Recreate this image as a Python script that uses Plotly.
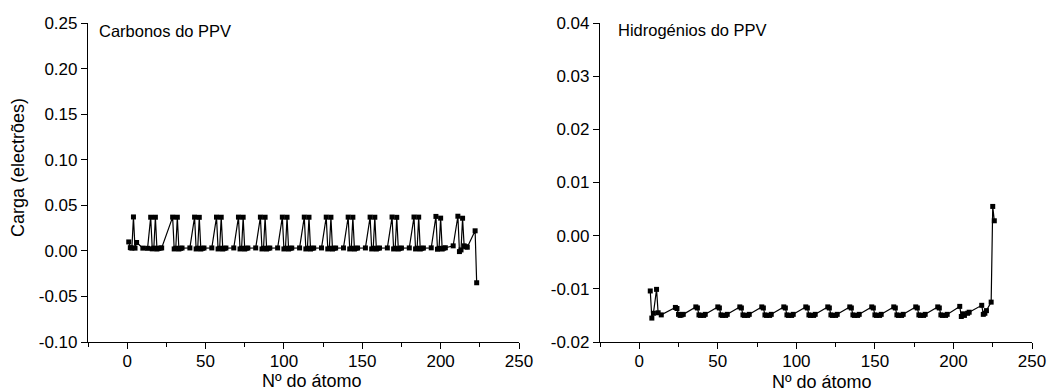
import plotly.graph_objects as go

# Mulliken-type charges (electrons) along a PPV oligomer, by atom number
# --- carbon atoms ---
C_ATOM = [
    1, 2, 3, 4, 5, 6, 10, 13,
    15, 16, 17, 18, 19, 20, 21, 22,
    29, 30, 31, 32, 33, 34, 35,
    40, 43, 44, 45, 46, 47, 48, 49,
    54, 57, 58, 59, 60, 61, 62, 63,
    68, 71, 72, 73, 74, 75, 76, 77,
    82, 85, 86, 87, 88, 89, 90, 91,
    96, 99, 100, 101, 102, 103, 104, 105,
    110, 113, 114, 115, 116, 117, 118, 119,
    124, 127, 128, 129, 130, 131, 132, 133,
    138, 141, 142, 143, 144, 145, 146, 147,
    152, 155, 156, 157, 158, 159, 160, 161,
    166, 169, 170, 171, 172, 173, 174, 175,
    180, 183, 184, 185, 186, 187, 188, 189,
    194, 197, 198, 199, 200, 201, 202, 203,
    208, 211, 212, 213, 214, 215, 216, 217,
    222, 223,
]
C_CHARGE = [
    0.0098, 0.0035, 0.0030, 0.0372, 0.0030, 0.0092, 0.0030, 0.0028,
    0.0369, 0.0022, 0.0030, 0.0369, 0.0020, 0.0028, 0.0030, 0.0032,
    0.0370, 0.0021, 0.0029, 0.0369, 0.0020, 0.0028, 0.0031,
    0.0032, 0.0370, 0.0021, 0.0029, 0.0368, 0.0020, 0.0028, 0.0031,
    0.0032, 0.0370, 0.0021, 0.0029, 0.0369, 0.0020, 0.0028, 0.0031,
    0.0032, 0.0370, 0.0021, 0.0029, 0.0369, 0.0020, 0.0028, 0.0031,
    0.0032, 0.0370, 0.0021, 0.0029, 0.0369, 0.0020, 0.0028, 0.0031,
    0.0032, 0.0370, 0.0021, 0.0029, 0.0369, 0.0020, 0.0028, 0.0031,
    0.0032, 0.0370, 0.0021, 0.0029, 0.0369, 0.0020, 0.0028, 0.0031,
    0.0032, 0.0370, 0.0021, 0.0029, 0.0369, 0.0020, 0.0028, 0.0031,
    0.0032, 0.0370, 0.0021, 0.0029, 0.0369, 0.0020, 0.0028, 0.0031,
    0.0032, 0.0370, 0.0021, 0.0029, 0.0369, 0.0020, 0.0028, 0.0031,
    0.0032, 0.0371, 0.0021, 0.0029, 0.0368, 0.0020, 0.0028, 0.0031,
    0.0032, 0.0371, 0.0021, 0.0029, 0.0370, 0.0020, 0.0028, 0.0031,
    0.0033, 0.0378, 0.0018, 0.0028, 0.0359, 0.0020, 0.0029, 0.0034,
    0.0055, 0.0380, -0.0008, 0.0010, 0.0358, 0.0055, 0.0045, 0.0040,
    0.0220, -0.0350,
]

# --- hydrogen atoms ---
H_ATOM = [
    7, 8, 9, 11, 12, 14,
    23, 24, 25, 26, 27, 28,
    36, 37, 38, 39, 41, 42,
    50, 51, 52, 53, 55, 56,
    64, 65, 66, 67, 69, 70,
    78, 79, 80, 81, 83, 84,
    92, 93, 94, 95, 97, 98,
    106, 107, 108, 109, 111, 112,
    120, 121, 122, 123, 125, 126,
    134, 135, 136, 137, 139, 140,
    148, 149, 150, 151, 153, 154,
    162, 163, 164, 165, 167, 168,
    176, 177, 178, 179, 181, 182,
    190, 191, 192, 193, 195, 196,
    204, 205, 206, 207, 209, 210,
    218, 219, 220, 221, 224, 225, 226,
]
H_CHARGE = [
    -0.0104, -0.0155, -0.0146, -0.0101, -0.0145, -0.0149,
    -0.0135, -0.0137, -0.0148, -0.0150, -0.0149, -0.0148,
    -0.0134, -0.0136, -0.0149, -0.0150, -0.0150, -0.0148,
    -0.0134, -0.0136, -0.0149, -0.0150, -0.0150, -0.0148,
    -0.0134, -0.0136, -0.0149, -0.0150, -0.0150, -0.0148,
    -0.0134, -0.0136, -0.0149, -0.0150, -0.0150, -0.0148,
    -0.0134, -0.0136, -0.0149, -0.0150, -0.0150, -0.0148,
    -0.0134, -0.0136, -0.0149, -0.0150, -0.0150, -0.0148,
    -0.0134, -0.0136, -0.0149, -0.0150, -0.0150, -0.0148,
    -0.0134, -0.0136, -0.0149, -0.0150, -0.0150, -0.0148,
    -0.0134, -0.0136, -0.0149, -0.0150, -0.0150, -0.0148,
    -0.0134, -0.0136, -0.0149, -0.0150, -0.0150, -0.0148,
    -0.0134, -0.0136, -0.0149, -0.0150, -0.0150, -0.0148,
    -0.0134, -0.0136, -0.0149, -0.0150, -0.0150, -0.0148,
    -0.0133, -0.0152, -0.0147, -0.0150, -0.0146, -0.0144,
    -0.0131, -0.0148, -0.0146, -0.0141, -0.0125, 0.0055, 0.0028,
]

# axis ticks and labels
X_TICKS = [0, 50, 100, 150, 200, 250]
C_TICKS = [-0.10, -0.05, 0.00, 0.05, 0.10, 0.15, 0.20, 0.25]
C_TICKTEXT = ["-0.10", "-0.05", "0.00", "0.05", "0.10", "0.15", "0.20", "0.25"]
H_TICKS = [-0.02, -0.01, 0.00, 0.01, 0.02, 0.03, 0.04]
H_TICKTEXT = ["-0.02", "-0.01", "0.00", "0.01", "0.02", "0.03", "0.04"]

W, H = 1048, 392
FONT = "Liberation Sans"
TICK_SIZE = 17
TITLE_SIZE = 18

line_style = dict(color="black", width=1.2)
marker_style = dict(symbol="square", size=5, color="black")

fig = go.Figure()
fig.add_trace(go.Scatter(x=C_ATOM, y=C_CHARGE, mode="lines+markers",
                         line=line_style, marker=marker_style,
                         xaxis="x", yaxis="y", showlegend=False))
fig.add_trace(go.Scatter(x=H_ATOM, y=H_CHARGE, mode="lines+markers",
                         line=line_style, marker=marker_style,
                         xaxis="x2", yaxis="y2", showlegend=False))


def px_x(p):
    return p / W


def px_y(p):
    return 1 - p / H


y_dom = [px_y(342), px_y(23)]

common_x = dict(range=[-25, 250], tickvals=X_TICKS, ticks="outside", ticklen=6,
                tickwidth=1.2, tickcolor="black", showline=True, linecolor="black",
                linewidth=1.2, showgrid=False, zeroline=False, mirror=False,
                automargin=False, ticklabelstandoff=-3,
                tickfont=dict(family=FONT, size=TICK_SIZE, color="black"),
                minor=dict(dtick=25, tick0=0, ticks="outside", ticklen=4,
                           tickwidth=1.2, tickcolor="black", showgrid=False))
common_y = dict(ticks="outside", ticklen=6, tickwidth=1.2, tickcolor="black",
                showline=True, linecolor="black", linewidth=1.2, showgrid=False,
                zeroline=False, mirror=False, automargin=False,
                tickfont=dict(family=FONT, size=TICK_SIZE, color="black"))

fig.update_layout(
    template="none",
    width=W, height=H,
    margin=dict(l=0, r=0, t=0, b=0, pad=0),
    paper_bgcolor="white", plot_bgcolor="white",
    font=dict(family=FONT, color="black"),
    xaxis=dict(domain=[px_x(88), px_x(519)], anchor="y", **common_x),
    yaxis=dict(domain=y_dom, anchor="x", range=[-0.10, 0.25],
               tickvals=C_TICKS, ticktext=C_TICKTEXT, **common_y),
    xaxis2=dict(domain=[px_x(600), px_x(1032)], anchor="y2", **common_x),
    yaxis2=dict(domain=y_dom, anchor="x2", range=[-0.02, 0.04],
                tickvals=H_TICKS, ticktext=H_TICKTEXT, **common_y),
)

annots = [
    dict(text="Carbonos do PPV", x=px_x(97), y=px_y(31), xanchor="left", yanchor="middle",
         font=dict(size=16.5)),
    dict(text="Hidrogénios do PPV", x=px_x(616), y=px_y(30), xanchor="left", yanchor="middle",
         font=dict(size=16.5)),
    dict(text="Nº do átomo", x=px_x(312), y=px_y(381), xanchor="center", yanchor="middle",
         font=dict(size=TITLE_SIZE)),
    dict(text="Nº do átomo", x=px_x(822), y=px_y(382), xanchor="center", yanchor="middle",
         font=dict(size=TITLE_SIZE)),
    dict(text="Carga (electrões)", x=px_x(18), y=px_y(168), xanchor="center", yanchor="middle",
         textangle=-90, font=dict(size=TITLE_SIZE)),
]
for a in annots:
    fig.add_annotation(xref="paper", yref="paper", showarrow=False, **a)

fig.write_html("out.html")
